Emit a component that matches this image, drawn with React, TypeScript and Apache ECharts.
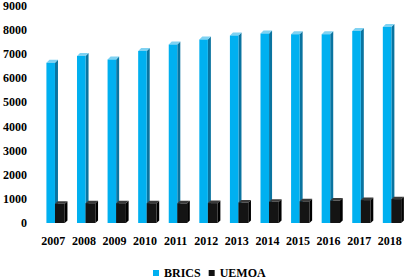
import React, { useEffect, useRef } from "react";
import * as echarts from "echarts";

const years = ["2007", "2008", "2009", "2010", "2011", "2012", "2013", "2014", "2015", "2016", "2017", "2018"];
const brics = [6650, 6930, 6780, 7130, 7400, 7610, 7780, 7860, 7830, 7830, 7960, 8130];
const uemoa = [800, 820, 820, 820, 815, 825, 850, 880, 900, 930, 950, 990];
const seriesNames = ["BRICS", "UEMOA"];

const FONT = "Liberation Serif";

function make3D(
  offFrac: number,
  wFrac: number,
  dx: number,
  dy: number,
  front: string,
  side: string,
  topC: string
) {
  return (params: any, api: any) => {
    const xi = api.value(0);
    const v = api.value(1);
    const top = api.coord([xi, v]);
    const base = api.coord([xi, 0]);
    const bw = api.size([1, 0])[0];
    const x0 = top[0] + offFrac * bw;
    const w = wFrac * bw;
    const y0 = top[1];
    const y1 = base[1];
    return {
      type: "group",
      children: [
        {
          type: "polygon",
          shape: {
            points: [
              [x0 + w, y0],
              [x0 + w + dx, y0 - dy],
              [x0 + w + dx, y1 - dy],
              [x0 + w, y1],
            ],
          },
          style: { fill: side },
        },
        {
          type: "polygon",
          shape: {
            points: [
              [x0, y0],
              [x0 + dx, y0 - dy],
              [x0 + w + dx, y0 - dy],
              [x0 + w, y0],
            ],
          },
          style: { fill: topC },
        },
        {
          type: "rect",
          shape: { x: x0, y: y0, width: w, height: y1 - y0 },
          style: { fill: front },
        },
      ],
    };
  };
}

export default function App() {
  const ref = useRef<HTMLDivElement>(null);
  useEffect(() => {
    document.body.style.margin = "0";
    if (!ref.current) return;
    const chart = echarts.init(ref.current, undefined, { renderer: "svg" });
    chart.setOption({
      animation: false,
      backgroundColor: "#ffffff",
      grid: { left: 36, right: 0, top: 6, bottom: 56, containLabel: false },
      legend: {
        data: seriesNames,
        top: 267,
        left: 153,
        icon: "rect",
        itemWidth: 6,
        itemHeight: 6,
        itemGap: 8,
        padding: 0,
        textStyle: { fontFamily: FONT, fontWeight: "bold", fontSize: 12, color: "#000" },
      },
      xAxis: {
        type: "category",
        data: years,
        axisLine: { show: false },
        axisTick: { show: false },
        axisLabel: {
          margin: 12,
          fontFamily: FONT,
          fontWeight: "bold",
          fontSize: 12,
          color: "#000",
          interval: 0,
        },
      },
      yAxis: {
        type: "value",
        min: 0,
        max: 9000,
        interval: 1000,
        splitLine: { show: false },
        axisLine: { show: false },
        axisTick: { show: false },
        axisLabel: {
          margin: 11,
          fontFamily: FONT,
          fontWeight: "bold",
          fontSize: 12,
          color: "#000",
          formatter: (v: number) => String(v),
        },
      },
      series: [
        {
          name: seriesNames[0],
          type: "custom",
          clip: false,
          itemStyle: { color: "#00B0F0" },
          encode: { x: 0, y: 1 },
          data: brics.map((v, i) => [i, v]),
          renderItem: make3D(-0.225, 0.28, 3, 3, "#00B0F0", "#0A74A0", "#7FD2F2"),
          z: 1,
        },
        {
          name: seriesNames[1],
          type: "custom",
          clip: false,
          itemStyle: { color: "#111111" },
          encode: { x: 0, y: 1 },
          data: uemoa.map((v, i) => [i, v]),
          renderItem: make3D(0.055, 0.32, 2.7, 2.5, "#141414", "#000000", "#3a3a3a"),
          z: 2,
        },
      ],
    });
    return () => chart.dispose();
  }, []);
  return <div ref={ref} style={{ width: 405, height: 279 }} />;
}
